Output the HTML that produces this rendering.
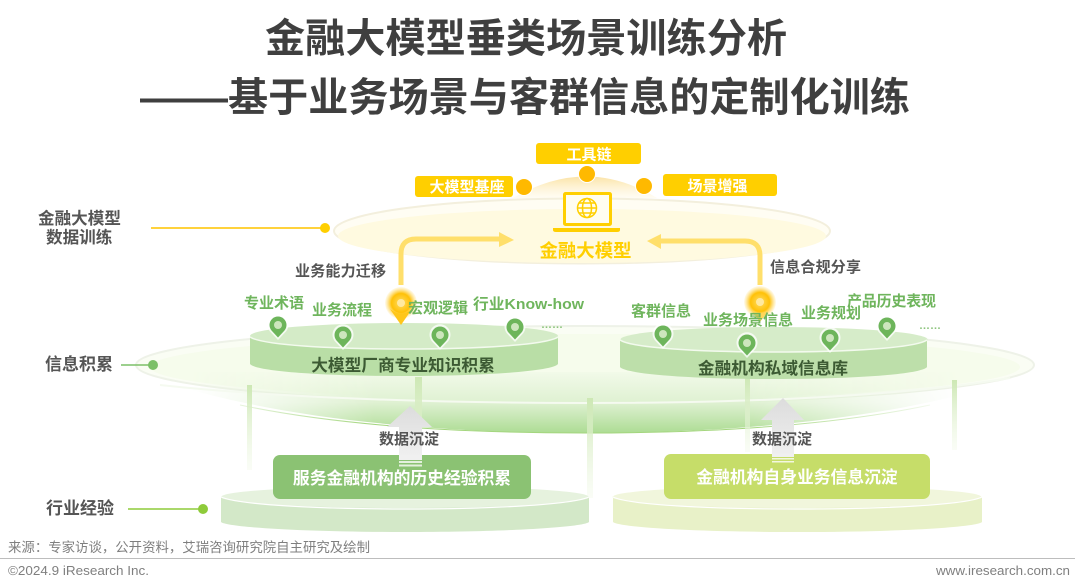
<!DOCTYPE html>
<html><head><meta charset="utf-8"><style>
html,body{margin:0;padding:0;background:#fff}
svg{display:block}
text{font-family:"Liberation Sans","Noto Sans CJK SC",sans-serif;font-weight:700}
</style></head><body>
<svg width="1080" height="587" viewBox="0 0 1080 587" xmlns="http://www.w3.org/2000/svg">
<defs>
<linearGradient id="disc" gradientUnits="userSpaceOnUse" x1="0" y1="372" x2="0" y2="433"><stop offset="0" stop-color="#f2fae9"/><stop offset=".5" stop-color="#dff1d2"/><stop offset="1" stop-color="#addc94"/></linearGradient>
<linearGradient id="hf" gradientUnits="userSpaceOnUse" x1="190" y1="0" x2="960" y2="0"><stop offset="0" stop-color="#000"/><stop offset=".24" stop-color="#fff"/><stop offset=".72" stop-color="#fff"/><stop offset="1" stop-color="#000"/></linearGradient>
<mask id="hm" maskUnits="userSpaceOnUse" x="0" y="300" width="1080" height="150"><rect x="0" y="300" width="1080" height="150" fill="url(#hf)"/></mask>
<linearGradient id="post" x1="0" y1="0" x2="0" y2="1"><stop offset="0" stop-color="#cde8b4"/><stop offset="1" stop-color="#f2f9e9" stop-opacity=".4"/></linearGradient>
<linearGradient id="arr" x1="0" y1="0" x2="0" y2="1"><stop offset="0" stop-color="#dcdcdc"/><stop offset="1" stop-color="#f1f1f1"/></linearGradient>
<linearGradient id="dome" x1="0" y1="0" x2="0" y2="1"><stop offset="0" stop-color="#fbe3a6"/><stop offset="1" stop-color="#fff8e0" stop-opacity=".4"/></linearGradient>
<radialGradient id="glow"><stop offset="0" stop-color="#ffdd66"/><stop offset=".6" stop-color="#ffc107"/><stop offset="1" stop-color="#ffd34d" stop-opacity=".1"/></radialGradient>
<symbol id="pin" viewBox="-12 -14 24 32" overflow="visible">
<path d="M0,13 L-8,4.500 A10.500,10.500 0 1 1 8,4.500 Z" fill="#fff" opacity=".75"/>
<path d="M0,10.500 L-6.500,3.500 A8.500,8.500 0 1 1 6.500,3.500 Z" fill="#6db55b"/>
<circle cy="-2" r="4" fill="#cde6bd"/>
</symbol>
</defs>

<rect width="1080" height="587" fill="#fff"/>
<text x="265" y="52" font-size="40" fill="#3f3f3f" textLength="522" lengthAdjust="spacingAndGlyphs">金融大模型垂类场景训练分析</text>
<text x="140" y="111" font-size="40" fill="#3f3f3f" textLength="88" lengthAdjust="spacingAndGlyphs">——</text>
<text x="228" y="111" font-size="40" fill="#3f3f3f" textLength="682" lengthAdjust="spacingAndGlyphs">基于业务场景与客群信息的定制化训练</text>

<!-- top disc -->
<path d="M513,198 Q587,155 657,198 Z" fill="url(#dome)"/>
<ellipse cx="582" cy="231" rx="248" ry="32.500" fill="#fffdf3" stroke="#f3efdd" stroke-width="2"/>
<ellipse cx="582" cy="236" rx="244" ry="27" fill="#fffae0"/>

<rect x="536" y="143" width="105" height="21" rx="3" fill="#ffcf00"/>
<rect x="415" y="176" width="98" height="21" rx="3" fill="#ffcf00"/>
<rect x="663" y="174" width="114" height="22" rx="3" fill="#ffcf00"/>
<text x="589" y="159.500" font-size="15" fill="#fff" text-anchor="middle">工具链</text>
<text x="467" y="192" font-size="15" fill="#fff" text-anchor="middle">大模型基座</text>
<text x="717.500" y="191" font-size="15" fill="#fff" text-anchor="middle">场景增强</text>
<circle cx="524" cy="187" r="8.500" fill="#ffb900" stroke="#fff"/>
<circle cx="587" cy="174" r="8.500" fill="#ffb900" stroke="#fff"/>
<circle cx="644" cy="186" r="8.500" fill="#ffb900" stroke="#fff"/>

<!-- laptop -->
<rect x="564.500" y="193.500" width="46" height="31" rx="1" fill="#fffdf0" stroke="#ffcf00" stroke-width="3"/>
<path d="M553,228 H620 V230 Q620,232 617,232 H556 Q553,232 553,230 Z" fill="#ffcf00"/>
<g fill="none" stroke="#ffcf00" stroke-width="1.500"><circle cx="587" cy="208" r="9.500"/><ellipse cx="587" cy="208" rx="4.500" ry="9.500"/><path d="M577.500,208 H596.500 M579,203 H595 M579,213 H595"/></g>
<text x="585.500" y="257" font-size="18.400" fill="#ffcf00" text-anchor="middle">金融大模型</text>

<!-- yellow arrows -->
<path d="M401,285 V254 Q401,239 416,239 H500" fill="none" stroke="#ffdf6b" stroke-width="5"/>
<path d="M499,232 L514,240 L499,247 Z" fill="#ffdf6b"/>
<path d="M760,285 V256 Q760,241 745,241 H660" fill="none" stroke="#ffdf6b" stroke-width="5"/>
<path d="M661,234 L647,241 L661,249 Z" fill="#ffdf6b"/>

<!-- big green disc -->
<ellipse cx="585" cy="365" rx="449" ry="39" fill="#fafdf4" stroke="#eef2e8" stroke-width="2"/>
<ellipse cx="585" cy="367" rx="435" ry="33" fill="#f6fcec"/>
<g mask="url(#hm)">
<path d="M137,372 H1034 C930,412 770,433 585,433 C400,433 240,412 137,372 Z" fill="url(#disc)"/>
<path d="M240,405 C340,426 460,433 585,433 C710,433 830,426 930,405" fill="none" stroke="#a4d67e" stroke-width="1"/>
</g>
<path d="M160,385 C280,398 440,403 585,403 C730,403 890,398 1010,378" fill="none" stroke="#f5faf0" stroke-width="2"/>

<!-- posts -->
<rect x="247" y="385" width="5" height="85" fill="url(#post)"/>
<rect x="415" y="377" width="7" height="105" fill="url(#post)"/>
<rect x="587" y="398" width="6" height="100" fill="url(#post)"/>
<rect x="745" y="377" width="5" height="75" fill="url(#post)"/>
<rect x="952" y="380" width="5" height="70" fill="url(#post)"/>

<!-- left labels -->
<text x="38" y="224" font-size="16.600" fill="#555">金融大模型</text>
<text x="46" y="243" font-size="16.600" fill="#555">数据训练</text>
<line x1="151" y1="228" x2="322" y2="228" stroke="#ffd23c" stroke-width="2"/>
<circle cx="325" cy="228" r="5" fill="#ffcf00"/>
<text x="45" y="370" font-size="17" fill="#555">信息积累</text>
<line x1="121" y1="365" x2="150" y2="365" stroke="#7cc068" stroke-width="1.500"/>
<circle cx="153" cy="365" r="5" fill="#7cc068"/>
<text x="46" y="514" font-size="17" fill="#555">行业经验</text>
<line x1="128" y1="509" x2="200" y2="509" stroke="#8ecb3a" stroke-width="1.500"/>
<circle cx="203" cy="509" r="5" fill="#8ecb3a"/>

<!-- left platform -->
<path d="M250,337 V364 C255,371 320,376 404,376 C488,376 553,371 558,364 V337 Z" fill="#b9dea6"/>
<ellipse cx="404" cy="336" rx="154" ry="13" fill="#d4ebc7"/>
<path d="M250,337 C262,345 330,349 404,349 C478,349 546,345 558,337" fill="none" stroke="#f3faee" stroke-width="1.500"/>
<text x="403" y="371" font-size="16.700" fill="#3c5a33" text-anchor="middle">大模型厂商专业知识积累</text>

<!-- right platform -->
<path d="M620,340 V367 C625,374 690,379 774,379 C858,379 922,374 927,367 V340 Z" fill="#bddfaa"/>
<ellipse cx="774" cy="339.500" rx="153.500" ry="12.500" fill="#d6ecc9"/>
<path d="M620,340 C632,348 700,352 774,352 C848,352 915,348 927,340" fill="none" stroke="#f3faee" stroke-width="1.500"/>
<text x="773" y="374" font-size="16.700" fill="#3c5a33" text-anchor="middle">金融机构私域信息库</text>

<!-- pins -->
<use href="#pin" x="266" y="313" width="24" height="32"/>
<use href="#pin" x="331" y="323" width="24" height="32"/>
<use href="#pin" x="428" y="323" width="24" height="32"/>
<use href="#pin" x="503" y="315" width="24" height="32"/>
<use href="#pin" x="651" y="322" width="24" height="32"/>
<use href="#pin" x="735" y="331" width="24" height="32"/>
<use href="#pin" x="818" y="326" width="24" height="32"/>
<use href="#pin" x="875" y="314" width="24" height="32"/>

<!-- glowing pins -->
<circle cx="401" cy="303" r="16" fill="url(#glow)"/>
<path d="M401,325 L390,309 Q401,318 412,309 Z" fill="#ffc61a"/>
<circle cx="401" cy="303" r="4" fill="#ffe9a0"/>
<circle cx="760" cy="302" r="16" fill="url(#glow)"/>
<path d="M760,322 L751,310 Q760,316 769,310 Z" fill="#ffd65a"/>
<circle cx="760" cy="302" r="4" fill="#ffe9a0"/>

<!-- green labels -->
<g font-size="15" fill="#6fb55d">
<text x="244" y="308" textLength="60">专业术语</text>
<text x="312" y="315" textLength="60">业务流程</text>
<text x="408" y="313" textLength="60">宏观逻辑</text>
<text x="473" y="309" textLength="111" lengthAdjust="spacingAndGlyphs">行业Know-how</text>
<text x="631" y="316" textLength="60">客群信息</text>
<text x="703" y="325" textLength="90">业务场景信息</text>
<text x="801" y="318" textLength="60">业务规划</text>
<text x="847" y="306" textLength="89">产品历史表现</text>
</g>
<g fill="#8cc47c"><text x="541" y="328" font-size="11">……</text><text x="919" y="329" font-size="11">……</text></g>

<text x="295" y="276" font-size="15" fill="#555" textLength="91">业务能力迁移</text>
<text x="770" y="272" font-size="15" fill="#555" textLength="91">信息合规分享</text>

<!-- bottom discs -->
<path d="M221,497 V522 C226,527 300,532 405,532 C510,532 584,527 589,522 V497 Z" fill="#d3e8c8"/>
<ellipse cx="405" cy="497" rx="184" ry="11" fill="#e6f2de"/>
<path d="M221,497 C240,505 320,509 405,509 C490,509 570,505 589,497" fill="none" stroke="#fff" stroke-width="1.200"/>
<path d="M613,497 V522 C618,527 690,532 797,532 C904,532 977,527 982,522 V497 Z" fill="#e8f1c8"/>
<ellipse cx="797" cy="497" rx="184.500" ry="11" fill="#f1f6dc"/>
<path d="M613,497 C630,505 710,509 797,509 C884,509 965,505 982,497" fill="none" stroke="#fff" stroke-width="1.200"/>

<!-- grey arrows -->
<path d="M410,406 L432,427 H422 V460 H399 V427 H387 Z" fill="url(#arr)"/>
<path d="M783,398 L804,420 H794 V460 H772 V420 H761 Z" fill="url(#arr)"/>
<text x="409" y="444" font-size="15" fill="#555" text-anchor="middle">数据沉淀</text>
<text x="782" y="444" font-size="15" fill="#555" text-anchor="middle">数据沉淀</text>

<!-- boxes -->
<rect x="273" y="455" width="258" height="44" rx="7" fill="#8bc273"/>
<rect x="399" y="455" width="23" height="5" fill="#f0f0f0"/>
<rect x="399" y="461" width="23" height="2" fill="#e4f0de"/>
<rect x="399" y="464.500" width="23" height="2" fill="#e4f0de"/>
<text x="402" y="484" font-size="16.800" fill="#fff" text-anchor="middle">服务金融机构的历史经验积累</text>
<rect x="664" y="454" width="266" height="45" rx="7" fill="#c6dd69"/>
<rect x="772" y="454" width="22" height="3" fill="#f0f0f0"/>
<rect x="772" y="458" width="22" height="1.500" fill="#f3f7e0"/>
<rect x="772" y="461" width="22" height="1.500" fill="#f3f7e0"/>
<text x="797" y="483" font-size="16.800" fill="#fff" text-anchor="middle">金融机构自身业务信息沉淀</text>

<!-- footer -->
<text x="8" y="552" font-size="13.400" fill="#7f7f7f" style="font-weight:400" textLength="362" lengthAdjust="spacingAndGlyphs">来源：专家访谈，公开资料，艾瑞咨询研究院自主研究及绘制</text>
<line x1="0" y1="558.500" x2="1075" y2="558.500" stroke="#bdbdbd" stroke-width="1"/>
<text x="8" y="575" font-size="13" fill="#7f7f7f" style="font-weight:400" textLength="141" lengthAdjust="spacingAndGlyphs">©2024.9 iResearch Inc.</text>
<text x="936" y="575" font-size="13" fill="#7f7f7f" style="font-weight:400" textLength="134" lengthAdjust="spacingAndGlyphs">www.iresearch.com.cn</text>
</svg>
</body></html>
